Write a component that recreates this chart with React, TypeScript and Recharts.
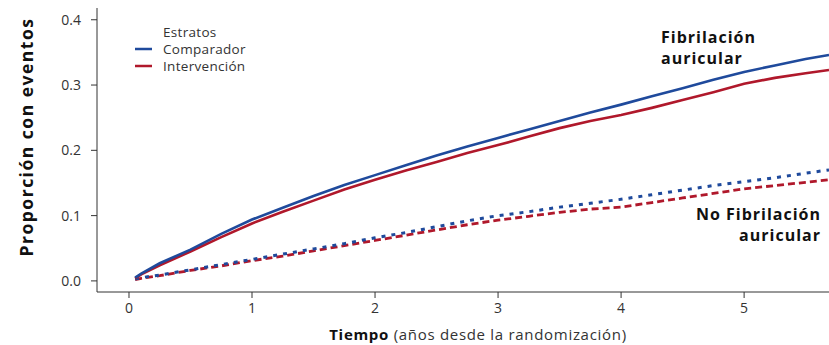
import { LineChart, Line, XAxis, YAxis, Customized } from 'recharts';

const time = [0.05, 0.1, 0.25, 0.5, 0.75, 1, 1.25, 1.5, 1.75, 2, 2.25, 2.5, 2.75, 3, 3.25, 3.5, 3.75, 4, 4.25, 4.5, 4.75, 5, 5.25, 5.5, 5.69];
const faComparador = [0.005, 0.011, 0.027, 0.048, 0.072, 0.094, 0.112, 0.13, 0.147, 0.162, 0.177, 0.192, 0.206, 0.219, 0.232, 0.245, 0.258, 0.27, 0.283, 0.295, 0.308, 0.32, 0.33, 0.34, 0.346];
const faIntervencion = [0.004, 0.01, 0.024, 0.045, 0.067, 0.088, 0.106, 0.123, 0.14, 0.155, 0.169, 0.182, 0.196, 0.208, 0.221, 0.234, 0.245, 0.254, 0.265, 0.277, 0.289, 0.302, 0.311, 0.318, 0.323];
const noFaComparador = [0.003, 0.005, 0.009, 0.017, 0.025, 0.033, 0.041, 0.049, 0.057, 0.066, 0.074, 0.083, 0.092, 0.1, 0.106, 0.113, 0.119, 0.125, 0.132, 0.139, 0.146, 0.152, 0.158, 0.165, 0.17];
const noFaIntervencion = [0.002, 0.004, 0.008, 0.016, 0.023, 0.031, 0.038, 0.046, 0.054, 0.062, 0.07, 0.078, 0.086, 0.093, 0.099, 0.105, 0.11, 0.113, 0.12, 0.127, 0.134, 0.141, 0.146, 0.151, 0.155];
const xTicks = [0, 1, 2, 3, 4, 5];
const yTicks = [0, 0.1, 0.2, 0.3, 0.4];

const BLUE = '#1f4a9c';
const RED = '#b0182b';
const FONT = '"Open Sans", sans-serif';

const data = time.map((t, i) => ({
  t,
  faC: faComparador[i],
  faI: faIntervencion[i],
  nfC: noFaComparador[i],
  nfI: noFaIntervencion[i],
}));

const tickStyle = { fill: '#333', fontSize: 14, fontFamily: FONT };

export default function App() {
  return (
    <div style={{ position: 'absolute', left: 0, top: 0, width: 829, height: 345, fontFamily: FONT }}>
      <LineChart width={829} height={345} data={data} margin={{ top: 8, right: 0, bottom: 0, left: 0 }}>
        <XAxis
          type="number"
          dataKey="t"
          domain={[-0.26, 5.69]}
          ticks={xTicks}
          allowDataOverflow
          height={53}
          tick={tickStyle}
          tickSize={6}
          tickMargin={5}
          stroke="#333"
          tickFormatter={(v: number) => String(v)}
        />
        <YAxis
          type="number"
          domain={[-0.017, 0.418]}
          ticks={yTicks}
          allowDataOverflow
          width={97}
          tick={tickStyle}
          tickSize={6}
          tickMargin={10}
          stroke="#333"
          tickFormatter={(v: number) => v.toFixed(1)}
        />
        <Line type="linear" dataKey="nfI" stroke={RED} strokeWidth={2.8} strokeDasharray="7 4" dot={false} isAnimationActive={false} />
        <Line type="linear" dataKey="nfC" stroke={BLUE} strokeWidth={3} strokeDasharray="4 6" dot={false} isAnimationActive={false} />
        <Line type="linear" dataKey="faI" stroke={RED} strokeWidth={2.6} dot={false} isAnimationActive={false} />
        <Line type="linear" dataKey="faC" stroke={BLUE} strokeWidth={2.6} dot={false} isAnimationActive={false} />
        <Customized
          component={() => (
            <g fontFamily={FONT}>
              <text x={163} y={37} fontSize={13.5} letterSpacing={0.3} fill="#333">Estratos</text>
              <line x1={135} x2={152} y1={49} y2={49} stroke={BLUE} strokeWidth={2.5} />
              <text x={163} y={54} fontSize={13.5} letterSpacing={0.3} fill="#333">Comparador</text>
              <line x1={135} x2={152} y1={66} y2={66} stroke={RED} strokeWidth={2.5} />
              <text x={163} y={71} fontSize={13.5} letterSpacing={0.3} fill="#333">Intervención</text>

              <text x={661} y={43} fontSize={16} letterSpacing={1} fontWeight="bold" fill="#111">Fibrilación</text>
              <text x={661} y={64} fontSize={16} letterSpacing={1} fontWeight="bold" fill="#111">auricular</text>
              <text x={821} y={220} fontSize={16} letterSpacing={1} fontWeight="bold" fill="#111" textAnchor="end">No Fibrilación</text>
              <text x={821} y={241} fontSize={16} letterSpacing={1} fontWeight="bold" fill="#111" textAnchor="end">auricular</text>

              <text x={478} y={340} fontSize={15} letterSpacing={0.7} fill="#333" textAnchor="middle">
                <tspan fontWeight="bold" fill="#111">Tiempo</tspan> (años desde la randomización)
              </text>
              <text
                x={33}
                y={137}
                fontSize={17.5}
                letterSpacing={1.5}
                fontWeight="bold"
                fill="#111"
                textAnchor="middle"
                transform="rotate(-90 33 137)"
              >
                Proporción con eventos
              </text>
            </g>
          )}
        />
      </LineChart>
    </div>
  );
}
